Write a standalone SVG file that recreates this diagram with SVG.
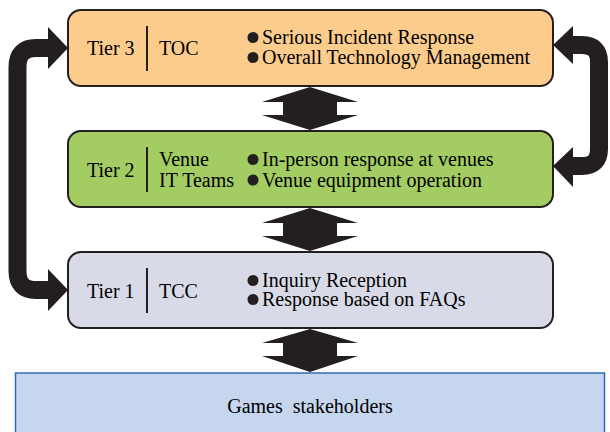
<svg xmlns="http://www.w3.org/2000/svg" width="610" height="432" viewBox="0 0 610 432">
  <!-- Tier 3 -->
  <g id="tier3">
    <rect x="68" y="10" width="485" height="76" rx="13" fill="#fccc8d" stroke="#231f20" stroke-width="2"/>
    <line x1="147" y1="26" x2="147" y2="71" stroke="#231f20" stroke-width="2"/>
    <circle cx="253" cy="37.5" r="5.5" fill="#231f20"/>
    <circle cx="253" cy="57.5" r="5.5" fill="#231f20"/>
    <text x="87" y="55" font-family="Liberation Serif" font-size="20">Tier 3</text>
    <text x="159" y="55" font-family="Liberation Serif" font-size="20">TOC</text>
    <text x="262" y="44" font-family="Liberation Serif" font-size="20">Serious Incident Response</text>
    <text x="262" y="64" font-family="Liberation Serif" font-size="20">Overall Technology Management</text>
  </g>

  <!-- Tier 2 -->
  <g id="tier2">
    <rect x="68" y="131" width="485" height="76" rx="13" fill="#a3cd62" stroke="#231f20" stroke-width="2"/>
    <line x1="147" y1="147" x2="147" y2="192" stroke="#231f20" stroke-width="2"/>
    <circle cx="253" cy="159.5" r="5.5" fill="#231f20"/>
    <circle cx="253" cy="180" r="5.5" fill="#231f20"/>
    <text x="87" y="177" font-family="Liberation Serif" font-size="20">Tier 2</text>
    <text x="159" y="166" font-family="Liberation Serif" font-size="20">Venue</text>
    <text x="159" y="187" font-family="Liberation Serif" font-size="20">IT Teams</text>
    <text x="262" y="166" font-family="Liberation Serif" font-size="20">In-person response at venues</text>
    <text x="262" y="187" font-family="Liberation Serif" font-size="20">Venue equipment operation</text>
  </g>

  <!-- Tier 1 -->
  <g id="tier1">
    <rect x="68" y="252" width="485" height="76" rx="13" fill="#d8dbe7" stroke="#231f20" stroke-width="2"/>
    <line x1="147" y1="268" x2="147" y2="313" stroke="#231f20" stroke-width="2"/>
    <circle cx="253" cy="280.5" r="5.5" fill="#231f20"/>
    <circle cx="253" cy="299.5" r="5.5" fill="#231f20"/>
    <text x="87" y="298" font-family="Liberation Serif" font-size="20">Tier 1</text>
    <text x="159" y="298" font-family="Liberation Serif" font-size="20">TCC</text>
    <text x="262" y="287" font-family="Liberation Serif" font-size="20">Inquiry Reception</text>
    <text x="262" y="306" font-family="Liberation Serif" font-size="20">Response based on FAQs</text>
  </g>

  <!-- Stakeholders -->
  <g id="stakeholders">
    <rect x="15.5" y="373" width="589" height="70" fill="#c7d6ef" stroke="#2f6db5" stroke-width="1.5"/>
    <text x="310" y="413" text-anchor="middle" word-spacing="5" font-family="Liberation Serif" font-size="20">Games stakeholders</text>
  </g>

  <g id="connectors" fill="#231f20">
    <!-- vertical two-way arrows between tiers -->
    <polygon points="310,87 358,102 337,102 337,115 358,115 310,130 262,115 283,115 283,102 262,102"/>
    <polygon points="310,208 358,223 337,223 337,236 358,236 310,251 262,236 283,236 283,223 262,223"/>
    <polygon points="310,329 358,343 337,343 337,356 358,356 310,372 262,356 283,356 283,343 262,343"/>

    <!-- left loop: Tier 1 to Tier 3 -->
    <path d="M50,290 H36 Q17.5,290 17.5,271 V67 Q17.5,48 36,48 H50" fill="none" stroke="#231f20" stroke-width="18"/>
    <polygon points="68,48 48,27 48,69"/>
    <polygon points="68,290 48,269 48,311"/>

    <!-- right loop: Tier 3 to Tier 2 -->
    <path d="M571,45 H582 Q599,45 599,62 V149 Q599,166 582,166 H571" fill="none" stroke="#231f20" stroke-width="18"/>
    <polygon points="553,45 573,26 573,64"/>
    <polygon points="553,166 573,147 573,187"/>
  </g>
</svg>
